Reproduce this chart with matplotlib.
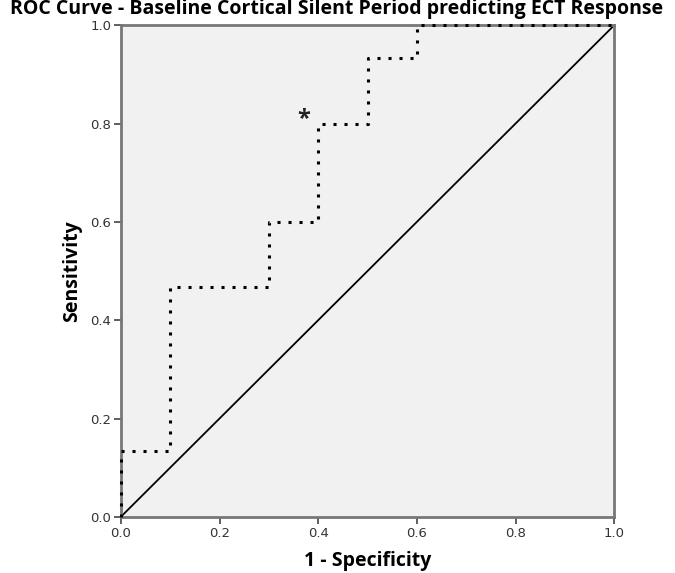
import matplotlib.pyplot as plt

# ROC curve steps (1 - specificity, sensitivity)
fpr = [0.0, 0.0, 0.1, 0.1, 0.3, 0.3, 0.4, 0.4, 0.5, 0.5, 0.6, 0.6, 1.0]
tpr = [0.0, 0.133, 0.133, 0.467, 0.467, 0.6, 0.6, 0.8, 0.8, 0.933, 0.933, 1.0, 1.0]
ref_line = [0.0, 1.0]
marker_pt = (0.37, 0.81)
ticks = [0.0, 0.2, 0.4, 0.6, 0.8, 1.0]

fig = plt.figure(figsize=(6.75, 5.73), dpi=100)
ax = fig.add_axes([0.179, 0.098, 0.731, 0.858])
ax.set_facecolor("#f1f1f1")

ax.plot(ref_line, ref_line, color="black", lw=1.3, solid_capstyle="butt")
ax.plot(fpr, tpr, color="black", lw=2.2, linestyle=(0, (1, 2.6)),
        dash_capstyle="butt", clip_on=False, zorder=4)
ax.text(marker_pt[0], marker_pt[1], "*", fontsize=17, ha="center", va="center",
        color="#222222", fontweight="bold", family="Open Sans")

ax.set_xlim(0, 1)
ax.set_ylim(0, 1)
ax.set_xticks(ticks)
ax.set_yticks(ticks)
ax.set_xticklabels([f"{t:.1f}" for t in ticks])
ax.set_yticklabels([f"{t:.1f}" for t in ticks])
ax.tick_params(direction="out", length=5, width=1.2, color="#444444",
               labelsize=9.5, labelcolor="#333333", pad=2)
for s in ax.spines.values():
    s.set_color("#777777")
    s.set_linewidth(2)

ax.set_xlabel("1 - Specificity", fontsize=14, fontweight="bold", labelpad=8,
              family="Open Sans")
ax.set_ylabel("Sensitivity", fontsize=14, fontweight="bold", labelpad=6,
              family="Open Sans")
fig.text(0.498, 0.985, "ROC Curve - Baseline Cortical Silent Period predicting ECT Response",
         ha="center", va="center", fontsize=14, fontweight="bold", family="Open Sans")

fig.savefig("out.png", dpi=100)
